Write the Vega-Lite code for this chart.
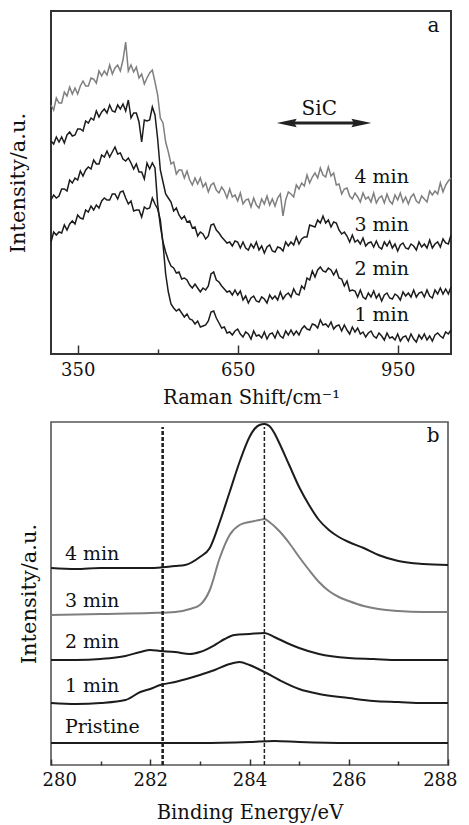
{
  "$schema": "https://vega.github.io/schema/vega-lite/v6.json",
  "background": "white",
  "padding": {"left": 6, "top": 10, "right": 12, "bottom": 2},
  "spacing": 68,
  "bounds": "flush",
  "config": {
    "font": "DejaVu Serif",
    "axis": {"grid": false, "domain": false, "labelFont": "DejaVu Serif", "titleFont": "DejaVu Serif", "labelColor": "#111", "titleColor": "#111", "titleFontWeight": "normal", "tickColor": "#333", "tickWidth": 1.5},
    "text": {"font": "DejaVu Serif"},
    "view": {"stroke": "#333", "strokeWidth": 2}
  },
  "vconcat": [
    {
      "width": 400,
      "height": 343,
      "view": {"stroke": "#333", "strokeWidth": 2},
      "resolve": {"axis": {"x": "independent"}, "scale": {"x": "shared"}},
      "encoding": {
        "y": {"field": "h", "type": "quantitative", "scale": {"domain": [0, 343], "nice": false, "zero": false},
          "axis": {"title": "Intensity/a.u.", "labels": false, "ticks": false, "tickSize": 0, "titleFontSize": 21, "titlePadding": 23}}
      },
      "layer": [
        {
          "data": {"values": [
{"R":300,"m1":112,"m2":154,"m3":213,"m4":249},{"R":305,"m1":122,"m2":159,"m3":210,"m4":244},{"R":310,"m1":119,"m2":156,"m3":217,"m4":256},{"R":315,"m1":122,"m2":158,"m3":212,"m4":251},{"R":320,"m1":121,"m2":165,"m3":217,"m4":251},
{"R":325,"m1":129,"m2":165,"m3":211,"m4":262},{"R":330,"m1":124,"m2":163,"m3":219,"m4":258},{"R":335,"m1":130,"m2":174,"m3":222,"m4":267},{"R":340,"m1":133,"m2":171,"m3":218,"m4":260},{"R":345,"m1":130,"m2":176,"m3":219,"m4":266},
{"R":350,"m1":139,"m2":174,"m3":225,"m4":260},{"R":355,"m1":136,"m2":183,"m3":225,"m4":268},{"R":360,"m1":135,"m2":178,"m3":223,"m4":273},{"R":365,"m1":144,"m2":184,"m3":233,"m4":268},{"R":370,"m1":142,"m2":187,"m3":231,"m4":268},
{"R":375,"m1":148,"m2":185,"m3":236,"m4":276},{"R":380,"m1":144,"m2":194,"m3":234,"m4":275},{"R":385,"m1":149,"m2":190,"m3":243,"m4":271},{"R":390,"m1":146,"m2":190,"m3":237,"m4":283},{"R":395,"m1":153,"m2":199,"m3":242,"m4":278},
{"R":400,"m1":156,"m2":197,"m3":245,"m4":283},{"R":405,"m1":154,"m2":203,"m3":241,"m4":279},{"R":410,"m1":154,"m2":197,"m3":249,"m4":289},{"R":415,"m1":160,"m2":202,"m3":243,"m4":280},{"R":420,"m1":160,"m2":207,"m3":242,"m4":286},
{"R":425,"m1":155,"m2":200,"m3":249,"m4":289},{"R":430,"m1":162,"m2":201,"m3":245,"m4":283},{"R":435,"m1":163,"m2":195,"m3":250,"m4":294},{"R":440,"m1":156,"m2":193,"m3":243,"m4":312},{"R":445,"m1":150,"m2":196,"m3":254,"m4":283},
{"R":450,"m1":153,"m2":191,"m3":236,"m4":289},{"R":455,"m1":143,"m2":185,"m3":241,"m4":282},{"R":460,"m1":144,"m2":190,"m3":241,"m4":287},{"R":465,"m1":144,"m2":182,"m3":232,"m4":276},{"R":470,"m1":137,"m2":182,"m3":212,"m4":280},
{"R":475,"m1":147,"m2":175,"m3":234,"m4":270},{"R":480,"m1":145,"m2":191,"m3":233,"m4":276},{"R":485,"m1":146,"m2":185,"m3":234,"m4":281},{"R":490,"m1":156,"m2":191,"m3":247,"m4":284},{"R":495,"m1":150,"m2":186,"m3":239,"m4":272},
{"R":500,"m1":145,"m2":150,"m3":215,"m4":259},{"R":505,"m1":134,"m2":128,"m3":184,"m4":236},{"R":510,"m1":110,"m2":112,"m3":172,"m4":231},{"R":515,"m1":80,"m2":102,"m3":160,"m4":212},{"R":520,"m1":62,"m2":94,"m3":156,"m4":202},
{"R":525,"m1":50,"m2":88,"m3":152,"m4":190},{"R":530,"m1":46,"m2":86,"m3":143,"m4":192},{"R":535,"m1":43,"m2":81,"m3":146,"m4":180},{"R":540,"m1":45,"m2":82,"m3":139,"m4":184},{"R":545,"m1":41,"m2":75,"m3":135,"m4":184},
{"R":550,"m1":37,"m2":76,"m3":138,"m4":176},{"R":555,"m1":40,"m2":74,"m3":132,"m4":183},{"R":560,"m1":35,"m2":69,"m3":133,"m4":174},{"R":565,"m1":34,"m2":66,"m3":126,"m4":169},{"R":570,"m1":30,"m2":70,"m3":127,"m4":176},
{"R":575,"m1":33,"m2":66,"m3":118,"m4":170},{"R":580,"m1":27,"m2":62,"m3":122,"m4":176},{"R":585,"m1":28,"m2":66,"m3":120,"m4":167},{"R":590,"m1":29,"m2":64,"m3":115,"m4":171},{"R":595,"m1":33,"m2":68,"m3":118,"m4":162},
{"R":600,"m1":42,"m2":80,"m3":129,"m4":169},{"R":605,"m1":43,"m2":82,"m3":130,"m4":171},{"R":610,"m1":36,"m2":74,"m3":124,"m4":164},{"R":615,"m1":31,"m2":72,"m3":121,"m4":161},{"R":620,"m1":26,"m2":68,"m3":117,"m4":167},
{"R":625,"m1":27,"m2":65,"m3":114,"m4":163},{"R":630,"m1":21,"m2":62,"m3":111,"m4":156},{"R":635,"m1":22,"m2":63,"m3":112,"m4":165},{"R":640,"m1":19,"m2":59,"m3":108,"m4":157},{"R":645,"m1":23,"m2":64,"m3":113,"m4":159},
{"R":650,"m1":25,"m2":59,"m3":112,"m4":153},{"R":655,"m1":20,"m2":63,"m3":106,"m4":161},{"R":660,"m1":17,"m2":54,"m3":112,"m4":150},{"R":665,"m1":22,"m2":58,"m3":106,"m4":154},{"R":670,"m1":20,"m2":51,"m3":104,"m4":155},
{"R":675,"m1":15,"m2":56,"m3":110,"m4":147},{"R":680,"m1":23,"m2":58,"m3":106,"m4":156},{"R":685,"m1":18,"m2":53,"m3":112,"m4":149},{"R":690,"m1":19,"m2":52,"m3":104,"m4":146},{"R":695,"m1":16,"m2":57,"m3":108,"m4":155},
{"R":700,"m1":22,"m2":55,"m3":101,"m4":150},{"R":705,"m1":15,"m2":51,"m3":107,"m4":158},{"R":710,"m1":20,"m2":59,"m3":109,"m4":149},{"R":715,"m1":21,"m2":55,"m3":103,"m4":155},{"R":720,"m1":16,"m2":58,"m3":102,"m4":148},
{"R":725,"m1":23,"m2":54,"m3":107,"m4":156},{"R":730,"m1":18,"m2":62,"m3":106,"m4":160},{"R":735,"m1":16,"m2":55,"m3":103,"m4":138},{"R":740,"m1":23,"m2":59,"m3":112,"m4":154},{"R":745,"m1":19,"m2":61,"m3":108,"m4":162},
{"R":750,"m1":24,"m2":57,"m3":112,"m4":160},{"R":755,"m1":19,"m2":65,"m3":109,"m4":157},{"R":760,"m1":23,"m2":60,"m3":117,"m4":169},{"R":765,"m1":19,"m2":59,"m3":110,"m4":165},{"R":770,"m1":25,"m2":68,"m3":115,"m4":171},
{"R":775,"m1":28,"m2":65,"m3":117,"m4":168},{"R":780,"m1":25,"m2":76,"m3":117,"m4":179},{"R":785,"m1":24,"m2":74,"m3":129,"m4":171},{"R":790,"m1":30,"m2":83,"m3":128,"m4":177},{"R":795,"m1":29,"m2":77,"m3":127,"m4":181},
{"R":800,"m1":26,"m2":84,"m3":134,"m4":176},{"R":805,"m1":34,"m2":87,"m3":131,"m4":186},{"R":810,"m1":29,"m2":83,"m3":138,"m4":179},{"R":815,"m1":30,"m2":82,"m3":131,"m4":177},{"R":820,"m1":27,"m2":86,"m3":134,"m4":187},
{"R":825,"m1":32,"m2":84,"m3":127,"m4":178},{"R":830,"m1":25,"m2":79,"m3":132,"m4":181},{"R":835,"m1":28,"m2":84,"m3":131,"m4":169},{"R":840,"m1":29,"m2":76,"m3":124,"m4":170},{"R":845,"m1":23,"m2":75,"m3":120,"m4":160},
{"R":850,"m1":29,"m2":68,"m3":122,"m4":165},{"R":855,"m1":24,"m2":73,"m3":118,"m4":166},{"R":860,"m1":20,"m2":63,"m3":112,"m4":158},{"R":865,"m1":27,"m2":64,"m3":119,"m4":155},{"R":870,"m1":22,"m2":63,"m3":112,"m4":161},
{"R":875,"m1":26,"m2":57,"m3":114,"m4":157},{"R":880,"m1":20,"m2":64,"m3":110,"m4":152},{"R":885,"m1":22,"m2":57,"m3":116,"m4":161},{"R":890,"m1":17,"m2":55,"m3":108,"m4":155},{"R":895,"m1":21,"m2":61,"m3":111,"m4":157},
{"R":900,"m1":23,"m2":57,"m3":112,"m4":152},{"R":905,"m1":18,"m2":63,"m3":107,"m4":161},{"R":910,"m1":16,"m2":56,"m3":113,"m4":151},{"R":915,"m1":21,"m2":60,"m3":107,"m4":156},{"R":920,"m1":18,"m2":53,"m3":105,"m4":158},
{"R":925,"m1":14,"m2":59,"m3":112,"m4":151},{"R":930,"m1":21,"m2":61,"m3":108,"m4":160},{"R":935,"m1":16,"m2":56,"m3":113,"m4":153},{"R":940,"m1":17,"m2":55,"m3":106,"m4":150},{"R":945,"m1":14,"m2":60,"m3":110,"m4":159},
{"R":950,"m1":20,"m2":58,"m3":103,"m4":154},{"R":955,"m1":13,"m2":54,"m3":109,"m4":161},{"R":960,"m1":17,"m2":62,"m3":111,"m4":152},{"R":965,"m1":18,"m2":58,"m3":106,"m4":157},{"R":970,"m1":13,"m2":61,"m3":105,"m4":150},
{"R":975,"m1":20,"m2":57,"m3":110,"m4":157},{"R":980,"m1":15,"m2":64,"m3":108,"m4":160},{"R":985,"m1":12,"m2":57,"m3":104,"m4":153},{"R":990,"m1":19,"m2":61,"m3":112,"m4":151},{"R":995,"m1":15,"m2":62,"m3":107,"m4":158},
{"R":1000,"m1":20,"m2":57,"m3":110,"m4":155},{"R":1005,"m1":14,"m2":64,"m3":106,"m4":152},{"R":1010,"m1":18,"m2":58,"m3":114,"m4":163},{"R":1015,"m1":13,"m2":56,"m3":106,"m4":159},{"R":1020,"m1":19,"m2":64,"m3":110,"m4":163},
{"R":1025,"m1":21,"m2":60,"m3":112,"m4":160},{"R":1030,"m1":18,"m2":66,"m3":107,"m4":171},{"R":1035,"m1":16,"m2":60,"m3":115,"m4":162},{"R":1040,"m1":22,"m2":65,"m3":111,"m4":169},{"R":1045,"m1":20,"m2":60,"m3":110,"m4":173},
{"R":1050,"m1":24,"m2":67,"m3":119,"m4":176}
          ]},
          "transform": [{"fold": ["m1", "m2", "m3", "m4"], "as": ["series", "h"]}],
          "mark": {"type": "line", "strokeWidth": 1.5, "interpolate": "linear"},
          "encoding": {
            "x": {"field": "R", "type": "quantitative", "scale": {"domain": [300, 1050], "nice": false, "zero": false},
              "axis": {"orient": "bottom", "values": [350, 650, 950], "ticks": false, "tickSize": 0, "labelFontSize": 18, "labelPadding": 7, "title": "Raman Shift/cm⁻¹", "titleFontSize": 19.5, "titlePadding": 9}},
            "color": {"field": "series", "type": "nominal", "scale": {"domain": ["m1", "m2", "m3", "m4"], "range": ["#1c1c1c", "#1c1c1c", "#1c1c1c", "#7f7f7f"]}, "legend": null}
          }
        },
        {
          "data": {"values": [{"R": 742, "R2": 882, "h": 231}]},
          "mark": {"type": "rule", "strokeWidth": 3, "color": "#222"},
          "encoding": {
            "x": {"field": "R", "type": "quantitative", "axis": {"orient": "bottom", "values": [350, 650, 950], "labels": false, "ticks": true, "tickSize": -9, "title": null}},
            "x2": {"field": "R2"}
          }
        },
        {
          "data": {"values": [{"R": 742, "h": 231, "dir": "left"}, {"R": 882, "h": 231, "dir": "right"}]},
          "mark": {"type": "point", "filled": true, "opacity": 1, "color": "#222", "size": 400, "strokeWidth": 0},
          "encoding": {
            "x": {"field": "R", "type": "quantitative", "axis": null},
            "shape": {"field": "dir", "type": "nominal", "scale": {"domain": ["left", "right"], "range": ["M-1,0L1,-0.42L0.75,0L1,0.42Z", "M1,0L-1,-0.42L-0.75,0L-1,0.42Z"]}, "legend": null}
          }
        },
        {
          "data": {"values": [{"R": 869, "h": 171, "label": "4 min"}, {"R": 869, "h": 123, "label": "3 min"}, {"R": 869, "h": 79, "label": "2 min"}, {"R": 869, "h": 33, "label": "1 min"}]},
          "mark": {"type": "text", "align": "left", "baseline": "alphabetic", "fontSize": 19, "color": "#111"},
          "encoding": {
            "x": {"field": "R", "type": "quantitative", "axis": {"orient": "bottom", "values": [500, 800], "labels": false, "ticks": true, "tickSize": -5, "title": null}},
            "text": {"field": "label"}
          }
        },
        {
          "data": {"values": [{"R": 803, "h": 239, "label": "SiC"}, {"R": 1017, "h": 322, "label": "a"}]},
          "mark": {"type": "text", "align": "center", "baseline": "alphabetic", "fontSize": 20, "color": "#111"},
          "encoding": {
            "x": {"field": "R", "type": "quantitative", "axis": null},
            "text": {"field": "label"}
          }
        }
      ]
    },
    {
      "width": 397,
      "height": 343,
      "view": {"stroke": "#555", "strokeWidth": 1.6},
      "resolve": {"axis": {"x": "independent"}, "scale": {"x": "shared"}},
      "encoding": {
        "y": {"field": "h", "type": "quantitative", "scale": {"domain": [0, 343], "nice": false, "zero": false},
          "axis": {"title": "Intensity/a.u.", "labels": false, "ticks": false, "tickSize": 0, "titleFontSize": 21, "titlePadding": 12}}
      },
      "layer": [
        {
          "data": {"values": [
{"s":"4 min","E":280,"h":197},{"s":"4 min","E":280.5,"h":196},{"s":"4 min","E":281,"h":197},{"s":"4 min","E":281.5,"h":197},{"s":"4 min","E":282,"h":197},{"s":"4 min","E":282.5,"h":199},{"s":"4 min","E":282.7,"h":200},{"s":"4 min","E":283,"h":208},{"s":"4 min","E":283.2,"h":217},{"s":"4 min","E":283.4,"h":243},{"s":"4 min","E":283.6,"h":273},{"s":"4 min","E":283.8,"h":303},{"s":"4 min","E":284,"h":328},{"s":"4 min","E":284.1,"h":336},{"s":"4 min","E":284.2,"h":340},{"s":"4 min","E":284.3,"h":341},{"s":"4 min","E":284.4,"h":339},{"s":"4 min","E":284.5,"h":332},{"s":"4 min","E":284.6,"h":322},{"s":"4 min","E":284.8,"h":300},{"s":"4 min","E":285,"h":278},{"s":"4 min","E":285.2,"h":260},{"s":"4 min","E":285.4,"h":245},{"s":"4 min","E":285.6,"h":235},{"s":"4 min","E":285.8,"h":228},{"s":"4 min","E":286,"h":223},{"s":"4 min","E":286.3,"h":217},{"s":"4 min","E":286.6,"h":210},{"s":"4 min","E":287,"h":204},{"s":"4 min","E":287.5,"h":201},{"s":"4 min","E":288,"h":200},
{"s":"3 min","E":280,"h":150},{"s":"3 min","E":281,"h":151},{"s":"3 min","E":282,"h":152},{"s":"3 min","E":282.5,"h":153},{"s":"3 min","E":282.8,"h":156},{"s":"3 min","E":283,"h":160},{"s":"3 min","E":283.2,"h":175},{"s":"3 min","E":283.4,"h":207},{"s":"3 min","E":283.6,"h":230},{"s":"3 min","E":283.8,"h":240},{"s":"3 min","E":284,"h":243},{"s":"3 min","E":284.2,"h":245},{"s":"3 min","E":284.3,"h":246},{"s":"3 min","E":284.4,"h":243},{"s":"3 min","E":284.6,"h":234},{"s":"3 min","E":284.8,"h":222},{"s":"3 min","E":285,"h":208},{"s":"3 min","E":285.2,"h":195},{"s":"3 min","E":285.4,"h":183},{"s":"3 min","E":285.6,"h":174},{"s":"3 min","E":285.8,"h":168},{"s":"3 min","E":286,"h":164},{"s":"3 min","E":286.3,"h":159},{"s":"3 min","E":286.6,"h":156},{"s":"3 min","E":287,"h":154},{"s":"3 min","E":287.5,"h":153},{"s":"3 min","E":288,"h":153},
{"s":"2 min","E":280,"h":105},{"s":"2 min","E":280.5,"h":105},{"s":"2 min","E":281,"h":106},{"s":"2 min","E":281.5,"h":109},{"s":"2 min","E":281.8,"h":113},{"s":"2 min","E":282,"h":115},{"s":"2 min","E":282.2,"h":114},{"s":"2 min","E":282.5,"h":113},{"s":"2 min","E":282.8,"h":111},{"s":"2 min","E":283,"h":113},{"s":"2 min","E":283.3,"h":120},{"s":"2 min","E":283.5,"h":126},{"s":"2 min","E":283.7,"h":130},{"s":"2 min","E":284,"h":131},{"s":"2 min","E":284.3,"h":132},{"s":"2 min","E":284.5,"h":128},{"s":"2 min","E":284.8,"h":121},{"s":"2 min","E":285,"h":117},{"s":"2 min","E":285.4,"h":111},{"s":"2 min","E":286,"h":107},{"s":"2 min","E":286.5,"h":106},{"s":"2 min","E":287,"h":105},{"s":"2 min","E":287.5,"h":105},{"s":"2 min","E":288,"h":105},
{"s":"1 min","E":280,"h":62},{"s":"1 min","E":280.5,"h":61},{"s":"1 min","E":281,"h":62},{"s":"1 min","E":281.5,"h":65},{"s":"1 min","E":281.8,"h":73},{"s":"1 min","E":282,"h":76},{"s":"1 min","E":282.2,"h":80},{"s":"1 min","E":282.5,"h":83},{"s":"1 min","E":282.8,"h":87},{"s":"1 min","E":283,"h":90},{"s":"1 min","E":283.3,"h":95},{"s":"1 min","E":283.6,"h":101},{"s":"1 min","E":283.8,"h":103},{"s":"1 min","E":284,"h":100},{"s":"1 min","E":284.3,"h":93},{"s":"1 min","E":284.6,"h":85},{"s":"1 min","E":285,"h":76},{"s":"1 min","E":285.4,"h":71},{"s":"1 min","E":286,"h":67},{"s":"1 min","E":286.5,"h":64},{"s":"1 min","E":287,"h":63},{"s":"1 min","E":287.5,"h":62},{"s":"1 min","E":288,"h":62},
{"s":"Pristine","E":280,"h":22},{"s":"Pristine","E":281,"h":22},{"s":"Pristine","E":282,"h":22},{"s":"Pristine","E":283,"h":22},{"s":"Pristine","E":284,"h":23},{"s":"Pristine","E":284.5,"h":24},{"s":"Pristine","E":285,"h":23},{"s":"Pristine","E":286,"h":22},{"s":"Pristine","E":287,"h":22},{"s":"Pristine","E":288,"h":22}
          ]},
          "mark": {"type": "line", "strokeWidth": 2, "interpolate": "monotone"},
          "encoding": {
            "x": {"field": "E", "type": "quantitative", "scale": {"domain": [280, 288], "nice": false, "zero": false},
              "axis": {"orient": "bottom", "values": [280, 282, 284, 286, 288], "ticks": false, "tickSize": 0, "labelFontSize": 18, "labelPadding": 6, "labelFlush": true, "labelFlushOffset": 9, "title": "Binding Energy/eV", "titleFontSize": 19.5, "titlePadding": 14}},
            "color": {"field": "s", "type": "nominal", "scale": {"domain": ["Pristine", "1 min", "2 min", "3 min", "4 min"], "range": ["#222222", "#1c1c1c", "#1c1c1c", "#7a7a7a", "#1c1c1c"]}, "legend": null}
          }
        },
        {
          "data": {"values": [{"E": 282.25, "h": 0, "h2": 338}]},
          "mark": {"type": "rule", "strokeWidth": 2.6, "strokeDash": [4, 2], "color": "#222"},
          "encoding": {
            "x": {"field": "E", "type": "quantitative", "axis": {"orient": "bottom", "values": [280, 282, 284, 286, 288], "labels": false, "ticks": true, "tickSize": -6, "title": null}},
            "y2": {"field": "h2"}
          }
        },
        {
          "data": {"values": [{"E": 284.3, "h": 0, "h2": 338}]},
          "mark": {"type": "rule", "strokeWidth": 1.5, "strokeDash": [4, 2], "color": "#222"},
          "encoding": {
            "x": {"field": "E", "type": "quantitative", "axis": {"orient": "bottom", "values": [281, 283, 285, 287], "labels": false, "ticks": true, "tickSize": -4, "title": null}},
            "y2": {"field": "h2"}
          }
        },
        {
          "data": {"values": [{"E": 280.28, "h": 205, "label": "4 min"}, {"E": 280.28, "h": 158, "label": "3 min"}, {"E": 280.28, "h": 117, "label": "2 min"}, {"E": 280.28, "h": 73, "label": "1 min"}, {"E": 280.28, "h": 32, "label": "Pristine"}]},
          "mark": {"type": "text", "align": "left", "baseline": "alphabetic", "fontSize": 19, "color": "#111"},
          "encoding": {
            "x": {"field": "E", "type": "quantitative", "axis": null},
            "text": {"field": "label"}
          }
        },
        {
          "data": {"values": [{"E": 287.7, "h": 323, "label": "b"}]},
          "mark": {"type": "text", "align": "center", "baseline": "alphabetic", "fontSize": 20, "color": "#111"},
          "encoding": {
            "x": {"field": "E", "type": "quantitative", "axis": null},
            "text": {"field": "label"}
          }
        }
      ]
    }
  ]
}
